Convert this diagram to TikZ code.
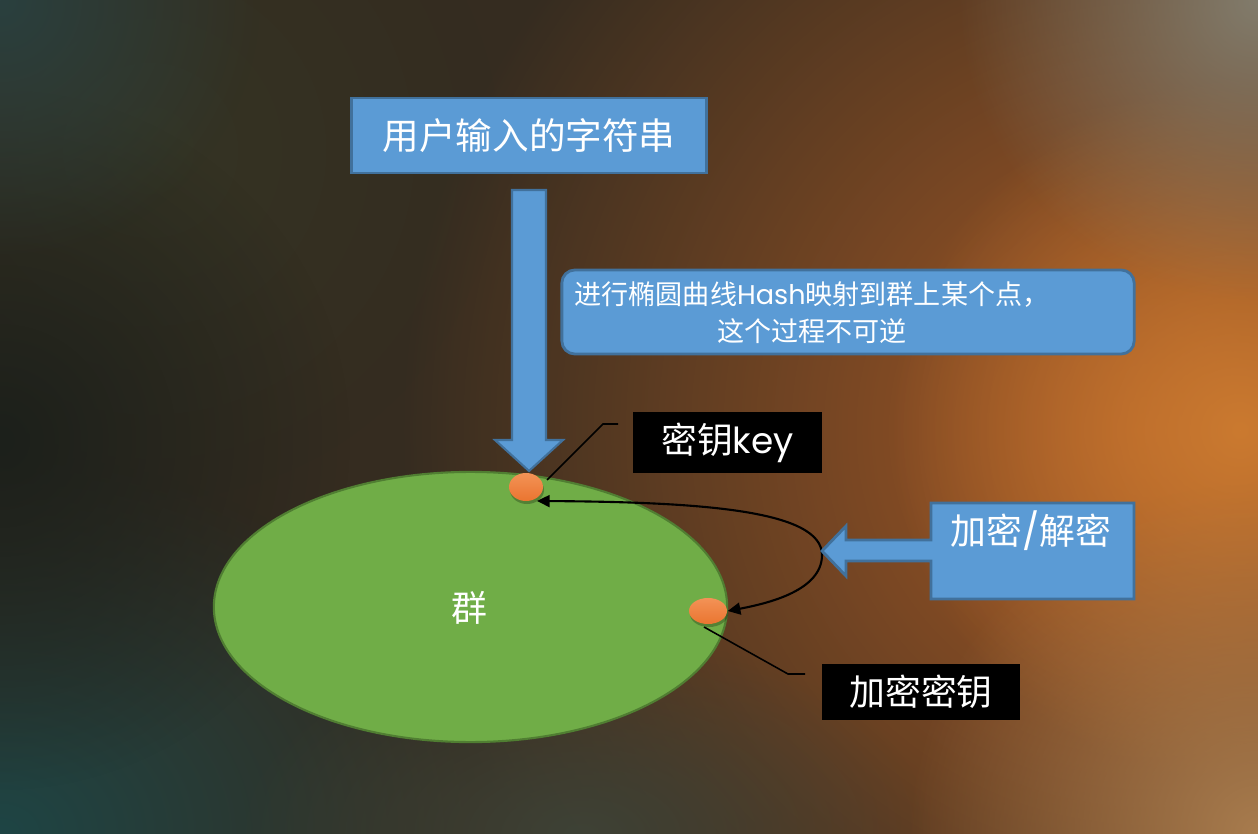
\documentclass[tikz,border=0pt]{standalone}
\usepackage{fontspec}
\setmainfont{Noto Sans CJK SC}
\newfontfamily\lat{Poppins}
\usetikzlibrary{shapes.geometric,arrows.meta,fadings}
\tikzfading[name=glowfade, inner color=transparent!0, outer color=transparent!100]
\definecolor{bluefill}{HTML}{5B9BD5}
\definecolor{blueline}{HTML}{41719C}
\definecolor{greenfill}{HTML}{70AD47}
\definecolor{greenline}{HTML}{507E32}
\definecolor{orangefill}{HTML}{EA7530}
\definecolor{orangelight}{HTML}{F39256}
\definecolor{bgbase}{HTML}{352C20}
\definecolor{bgwarm}{HTML}{A85A26}
\definecolor{bgorange}{HTML}{CB7A30}
\definecolor{bggrey}{HTML}{827C6C}
\definecolor{bgteal}{HTML}{1E4545}
\definecolor{bgdark}{HTML}{1C201B}
\definecolor{bgtl}{HTML}{2A403F}
\definecolor{bgolive}{HTML}{343424}
\definecolor{bgbr}{HTML}{A87C4E}
\definecolor{bgbm}{HTML}{3E4236}
\begin{document}
\begin{tikzpicture}[x=0.01cm,y=-0.01cm,
  bluebox/.style={draw=blueline, fill=bluefill, line width=0.8pt, text=white, inner sep=0pt},
  blackbox/.style={fill=black, text=white, inner sep=0pt},
  keydot/.style={ellipse, top color=orangelight, bottom color=orangefill, draw=none, inner sep=0pt},
  callout/.style={draw=black, line width=0.45pt},
  bigtext/.style={font=\fontsize{10.2}{12}\selectfont},
  glow/.style={path fading=glowfade}
]
\useasboundingbox (0,0) rectangle (1258,834);
% background
\begin{scope}
\clip (0,0) rectangle (1258,834);
\fill[bgbase] (0,0) rectangle (1258,834);
\fill[bgolive, glow] (150,150) circle (3.5cm);
\fill[bgwarm, glow] (1150,430) circle (7.5cm);
\fill[bgorange, glow] (1240,430) circle (3.5cm);
\fill[bggrey, glow] (1258,0) circle (3cm);
\fill[bgteal, glow] (0,834) ellipse (4.8cm and 3.8cm);
\fill[bgdark, glow] (0,440) circle (3.5cm);
\fill[bgtl, glow] (0,0) circle (2.6cm);
\fill[bgbr, glow] (1258,834) circle (3.5cm);
\fill[bgbm, glow] (580,834) ellipse (3.5cm and 2cm);
\end{scope}

% group ellipse
\node[ellipse, draw=greenline, fill=greenfill, line width=0.6pt, minimum width=5.13cm, minimum height=2.70cm, inner sep=0pt] (grp) at (470.5,607) {};
\node[text=white, bigtext] (grplabel) at (469,608) {群};

% big down arrow from input box to group
\node[bluebox, minimum width=3.54cm, minimum height=0.75cm] (input) at (529,135.5) {\fontsize{10.4}{12}\selectfont 用户输入的字符串};
\filldraw[fill=bluefill, draw=blueline, line width=0.6pt]
  (512,190) -- (546,190) -- (546,440) -- (563,440) -- (529,471) -- (495,440) -- (512,440) -- cycle;

% mapping note
\node[bluebox, rounded corners=0.13cm, minimum width=5.72cm, minimum height=0.84cm] (note) at (848,312) {};
\node[text=white, align=center, inner sep=0pt, font=\fontsize{7.7}{10.6}\selectfont] (notetext) at (812,313)
  {进行椭圆曲线{\lat Hash}映射到群上某个点，\\这个过程不可逆};

% key dots
\fill[black, opacity=0.25] (527,490) ellipse (0.17cm and 0.14cm);
\node[keydot, minimum width=0.34cm, minimum height=0.28cm] (k1) at (526,487) {};
\fill[black, opacity=0.25] (709,614) ellipse (0.19cm and 0.13cm);
\node[keydot, minimum width=0.38cm, minimum height=0.26cm] (k2) at (708,611) {};

% encryption / decryption curve
\coordinate (k1in) at (537,501);
\draw[line width=0.6pt, {Triangle[length=3.6pt,width=3.4pt]}-{Triangle[length=3.6pt,width=3.4pt]}]
  (k1in) .. controls (700,502) and (822,510) .. (822,555)
  .. controls (822,590) and (770,603) .. (k2.east);

% encrypt/decrypt arrow callout
\filldraw[fill=bluefill, draw=blueline, line width=0.8pt]
  (1134,503) -- (931,503) -- (931,540) -- (846,540) -- (846,526) -- (822,551)
  -- (846,576) -- (846,561) -- (931,561) -- (931,599) -- (1134,599) -- cycle;
\node[text=white, bigtext] (enclabel) at (1031,531) {加密{\lat /}解密};

% key label
\node[blackbox, minimum width=1.89cm, minimum height=0.61cm] (keylabel) at (727.5,442.5) {\fontsize{10.2}{12}\selectfont 密钥{\lat key}};
\coordinate (c1a) at (547,480);
\coordinate (c1b) at (603,424);
\coordinate (c1c) at (618,424);
\draw[callout] (c1a) -- (c1b) -- (c1c);

% encryption key label
\node[blackbox, minimum width=1.98cm, minimum height=0.56cm] (enckey) at (921,692) {\fontsize{10.2}{12}\selectfont 加密密钥};
\coordinate (c2a) at (704,627);
\coordinate (c2b) at (788,674);
\coordinate (c2c) at (805,674);
\draw[callout] (c2a) -- (c2b) -- (c2c);
\end{tikzpicture}
\end{document}
